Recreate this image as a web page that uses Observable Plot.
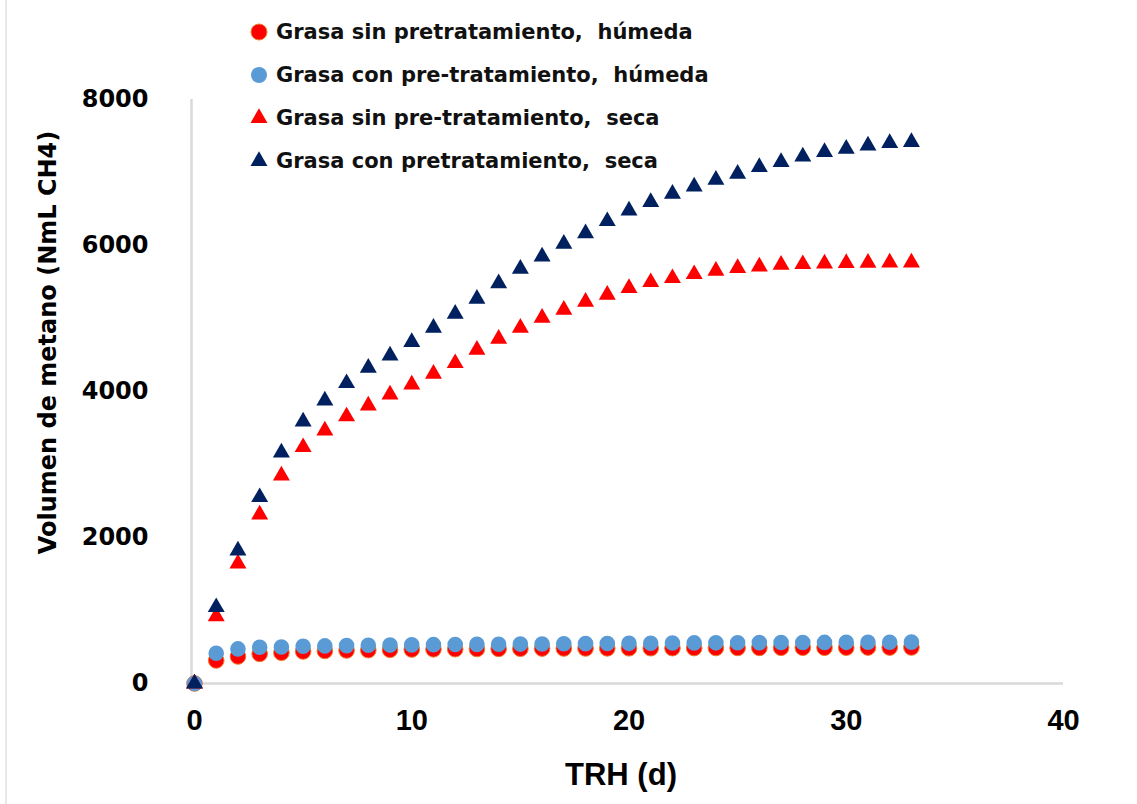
<!DOCTYPE html>
<html>
<head>
<meta charset="utf-8">
<script src="https://cdn.jsdelivr.net/npm/d3@7"></script>
<script src="https://cdn.jsdelivr.net/npm/@observablehq/plot@0.6"></script>
<style>
  body { margin: 0; background: #fff; }
  #wrap { position: relative; width: 1137px; height: 804px; overflow: hidden; background: #fff; }
  #edge { position: absolute; left: 5px; top: 0; width: 2px; height: 804px; background: #e8e8e8; }
  #legend { position: absolute; left: 248px; top: 10px; font: bold 21px "DejaVu Sans", sans-serif; color: #111; }
  .row { display: flex; align-items: center; height: 43px; white-space: pre; }
  .row svg { width: 22px; height: 22px; margin-right: 6px; }
</style>
</head>
<body>
<div id="wrap"><div id="edge"></div><div id="legend"></div></div>
<script>
// ---- data ----
const days = [0,1,2,3,4,5,6,7,8,9,10,11,12,13,14,15,16,17,18,19,20,21,22,23,24,25,26,27,28,29,30,31,32,33];
const sinHumeda = [0,315,370,406,421,438,446,452,457,461,465,468,470,472,474,476,478,479,480,481,482,483,484,485,486,487,488,489,490,490,491,492,492,493];
const conHumeda = [0,415,474,497,500,511,515,519,523,526,529,532,534,536,538,540,542,544,546,548,550,552,554,556,557,558,560,561,562,563,564,565,566,567];
const sinSeca = [0,920,1644,2315,2849,3237,3466,3658,3808,3959,4096,4242,4388,4571,4721,4872,5009,5119,5228,5325,5416,5497,5552,5607,5653,5690,5712,5735,5744,5753,5758,5763,5767,5767];
const conSeca = [0,1045,1822,2552,3164,3589,3877,4114,4324,4493,4676,4872,5064,5269,5483,5680,5849,6023,6167,6333,6479,6594,6708,6808,6900,6982,7073,7142,7219,7279,7324,7370,7402,7416];

const seriesNames = [
  "Grasa sin pretratamiento,  húmeda",
  "Grasa con pre-tratamiento,  húmeda",
  "Grasa sin pre-tratamiento,  seca",
  "Grasa con pretratamiento,  seca"
];
const seriesValues = [sinHumeda, conHumeda, sinSeca, conSeca];
const seriesColors = ["#FF0000", "#5B9BD5", "#FF0000", "#002060"];
const seriesSymbols = ["circle", "circle", "triangle", "triangle"];
const xTicks = [0, 10, 20, 30, 40];
const yTicks = [0, 2000, 4000, 6000, 8000];
const xLabel = "TRH (d)";
const yLabel = "Volumen de metano (NmL CH4)";

// ---- table ----
const rows = [];
seriesNames.forEach((name, i) => {
  days.forEach((d, j) => rows.push({day: d, value: seriesValues[i][j], series: name}));
});

const markSizes = [7.8, 7.8, 6.3, 6.3];
const dotMarks = seriesNames.map((name, i) =>
  Plot.dot(rows.filter(r => r.series === name), {
    x: "day", y: "value", fill: "series", symbol: "series", r: markSizes[i],
    stroke: i === 0 ? "#ED7D31" : "none", strokeWidth: 1
  })
);

const narrow = "'Liberation Sans Narrow', 'Liberation Sans', Arial, sans-serif";

const chart = Plot.plot({
  width: 1137, height: 804,
  marginLeft: 194, marginRight: 74, marginTop: 99, marginBottom: 121,
  x: {domain: [0, 40]},
  y: {domain: [0, 8000]},
  color: {domain: seriesNames, range: seriesColors},
  symbol: {domain: seriesNames, range: seriesSymbols},
  style: {background: "transparent", color: "#000", overflow: "visible"},
  marks: [
    Plot.ruleY([0], {stroke: "#d9d9d9", strokeWidth: 2.5}),
    Plot.ruleX([0], {stroke: "#d9d9d9", strokeWidth: 2.5, dx: -3}),
    Plot.axisY({ticks: yTicks, tickSize: 0, tickPadding: 46, label: null,
      fontSize: 24, fontWeight: "bold", fontFamily: "DejaVu Sans", fill: "#000", tickFormat: d => String(d)}),
    Plot.axisX({ticks: xTicks, tickSize: 0, tickPadding: 26, label: null,
      fontSize: 29, fontWeight: "bold", fontFamily: narrow, fill: "#000", tickFormat: d => String(d)}),
    Plot.text([yLabel], {text: d => d, frameAnchor: "left", textAnchor: "middle", lineAnchor: "middle",
      rotate: -90, dx: -146, dy: -49,
      fontSize: 24, fontWeight: "bold", fontFamily: "DejaVu Sans", fill: "#000"}),
    Plot.text([xLabel], {text: d => d, frameAnchor: "bottom", textAnchor: "middle", lineAnchor: "middle",
      dx: -8, dy: 92,
      fontSize: 31, fontWeight: "bold", fontFamily: narrow, fill: "#000"}),
    ...dotMarks
  ]
});
chart.style.position = "absolute";
chart.style.left = "0";
chart.style.top = "0";
const wrap = document.getElementById("wrap");
wrap.insertBefore(chart, document.getElementById("legend"));

// ---- legend ----
const legend = document.getElementById("legend");
seriesNames.forEach((name, i) => {
  const row = document.createElement("div");
  row.className = "row";
  const ns = "http://www.w3.org/2000/svg";
  const svg = document.createElementNS(ns, "svg");
  svg.setAttribute("viewBox", "-11 -11 22 22");
  let shape;
  if (seriesSymbols[i] === "circle") {
    shape = document.createElementNS(ns, "circle");
    shape.setAttribute("r", "8");
    if (i === 0) { shape.setAttribute("stroke", "#ED7D31"); shape.setAttribute("stroke-width", "1"); }
  } else {
    shape = document.createElementNS(ns, "path");
    shape.setAttribute("d", d3.symbol(d3.symbolTriangle, Math.PI * 6.3 * 6.3)());
  }
  shape.setAttribute("fill", seriesColors[i]);
  svg.appendChild(shape);
  row.appendChild(svg);
  const span = document.createElement("span");
  span.textContent = name;
  row.appendChild(span);
  legend.appendChild(row);
});
</script>
</body>
</html>
